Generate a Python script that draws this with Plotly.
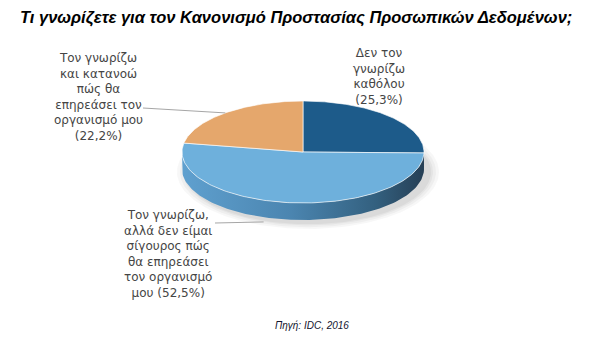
import numpy as np
import plotly.graph_objects as go

# ---- data ----
categories = [
    ["Δεν τον", "γνωρίζω", "καθόλου"],
    ["Τον γνωρίζω,", "αλλά δεν είμαι", "σίγουρος πώς", "θα επηρεάσει", "τον οργανισμό", "μου"],
    ["Τον γνωρίζω", "και κατανοώ", "πώς θα", "επηρεάσει τον", "οργανισμό μου"],
]
values = [25.3, 52.5, 22.2]
title_text = "Τι γνωρίζετε για τον Κανονισμό Προστασίας Προσωπικών Δεδομένων;"
source_text = "Πηγή: IDC, 2016"

# ---- styles ----
top_colors = ["#1d5b8a", "#6eb0dc", "#e5a76c"]
wall_scales = [
    [[0, "#1a4f78"], [1, "#12324c"]],
    [[0, "#5fa0cf"], [0.45, "#4b85b0"], [0.8, "#33607f"], [1, "#263f55"]],
    [[0, "#c98d55"], [1, "#8a5d35"]],
]
pct_sep = ["<br>", " ", "<br>"]
label_pos = [(379, 76), (168, 254), (98, 97)]
leader_start = [None, (215, 223), (143, 108)]

W, H = 612, 352
cx, cy, rx, ry, depth = 303, 152, 121, 51, 17


def pt(theta, dy=0.0):
    t = np.radians(theta)
    return cx + rx * np.sin(t), cy - ry * np.cos(t) + dy


total = sum(values)
spans = [360 * v / total for v in values]
starts = np.concatenate([[0], np.cumsum(spans)[:-1]])

fig = go.Figure()

# soft shadow
for g, a in [(10, 0.03), (7, 0.035), (4, 0.04), (2, 0.045)]:
    th = np.linspace(0, 360, 180)
    t = np.radians(th)
    fig.add_trace(go.Scatter(
        x=cx + 5 + (rx + g) * np.sin(t), y=cy + depth + 3 - (ry + g * 0.6) * np.cos(t),
        fill="toself", mode="lines", line=dict(width=0),
        fillcolor=f"rgba(0,0,0,{a})", hoverinfo="skip"))

# side walls (front half, 90..270 degrees)
for i in range(len(values)):
    a = max(starts[i], 90)
    b = min(starts[i] + spans[i], 270)
    if b <= a:
        continue
    th = np.linspace(a, b, 120)
    xt, yt = pt(th)
    xb, yb = pt(th[::-1], depth)
    fig.add_trace(go.Scatter(
        x=np.concatenate([xt, xb]), y=np.concatenate([yt, yb]),
        fill="toself", mode="lines", line=dict(width=0),
        fillgradient=dict(type="horizontal", colorscale=wall_scales[i],
                          start=cx - rx, stop=cx + rx),
        hoverinfo="skip"))

# top slices
for i in range(len(values)):
    th = np.linspace(starts[i], starts[i] + spans[i], 150)
    xa, ya = pt(th)
    fig.add_trace(go.Scatter(
        x=np.concatenate([[cx], xa, [cx]]), y=np.concatenate([[cy], ya, [cy]]),
        fill="toself", mode="lines", line=dict(color="rgba(255,255,255,0.8)", width=0.8),
        fillcolor=top_colors[i], hoverinfo="skip"))

# leader lines
for i in range(len(values)):
    if leader_start[i] is None:
        continue
    mid = starts[i] + spans[i] / 2
    if 90 < mid < 270:
        ex, ey = pt(200, depth)
        ex, ey = ex + 2, ey + 5
    else:
        ex, ey = pt(mid)
    sx, sy = leader_start[i]
    fig.add_trace(go.Scatter(x=[sx, ex], y=[sy, ey], mode="lines",
                             line=dict(color="#a6a6a6", width=1), hoverinfo="skip"))

# labels
for i in range(len(values)):
    pct = f"({values[i]:.1f}%)".replace(".", ",")
    text = "<br>".join(categories[i]) + pct_sep[i] + pct
    fig.add_annotation(x=label_pos[i][0], y=label_pos[i][1], xref="x", yref="y",
                       text=text, showarrow=False, align="center",
                       font=dict(family="DejaVu Sans", size=12, color="#454545"))

fig.add_annotation(x=18, y=17, xref="x", yref="y", text=f"<b><i>{title_text}</i></b>",
                   showarrow=False, xanchor="left",
                   font=dict(family="Liberation Sans", size=16.5, color="#000000"))
fig.add_annotation(x=312, y=325, xref="x", yref="y", text=f"<i>{source_text}</i>",
                   showarrow=False, font=dict(family="Liberation Sans", size=10, color="#14142e"))

fig.update_layout(
    width=W, height=H, margin=dict(l=0, r=0, t=0, b=0),
    paper_bgcolor="white", plot_bgcolor="white", showlegend=False,
    xaxis=dict(range=[0, W], visible=False, fixedrange=True),
    yaxis=dict(range=[H, 0], visible=False, fixedrange=True),
    hovermode=False,
)
fig.write_html("out.html")
